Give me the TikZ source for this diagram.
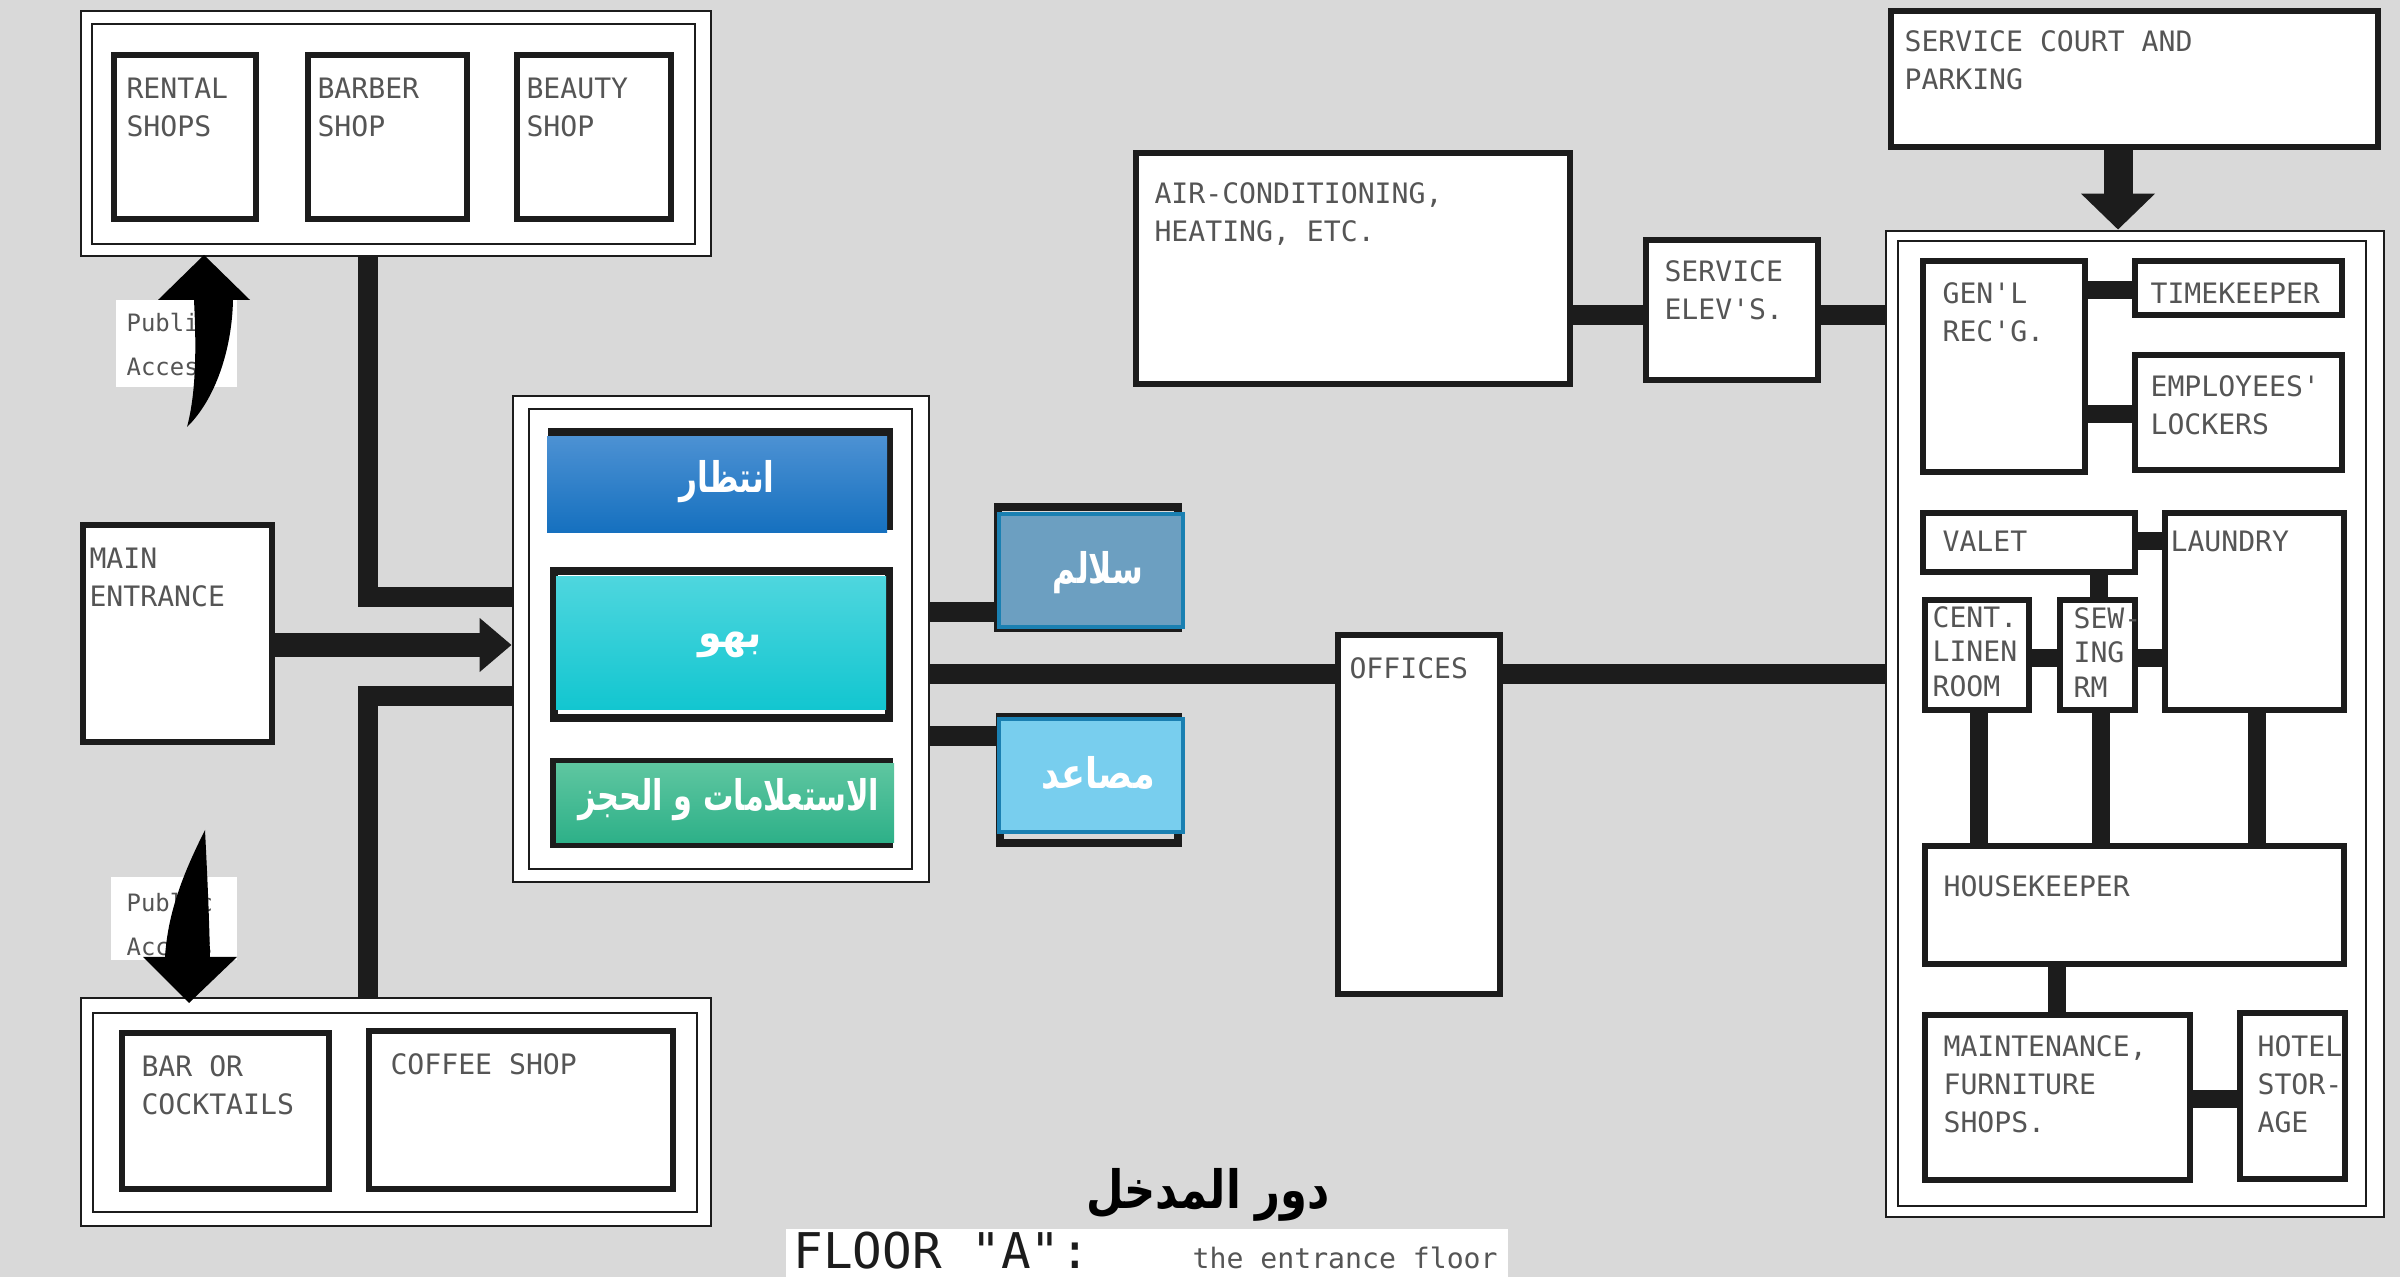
\documentclass[tikz,border=0pt]{standalone}
\usepackage{fontspec}
\setmonofont{DejaVu Sans Mono}
\newfontfamily\arabicfont[Script=Arabic]{DejaVu Sans}
\TeXXeTstate=1
\usetikzlibrary{fit,arrows.meta}
\definecolor{bggray}{HTML}{D9D9D9}
\definecolor{ink}{HTML}{1C1C1C}
\definecolor{txtgray}{HTML}{555555}
\definecolor{waitTop}{HTML}{4C91D3}
\definecolor{waitBot}{HTML}{1570BF}
\definecolor{lobTop}{HTML}{4ED6DE}
\definecolor{lobBot}{HTML}{12C6D0}
\definecolor{infoTop}{HTML}{5EC6A0}
\definecolor{infoBot}{HTML}{2DB088}
\definecolor{stairFill}{HTML}{6C9FC1}
\definecolor{elevFill}{HTML}{78CEEE}
\definecolor{tealEdge}{HTML}{1A80B2}
\tikzset{
  roombox/.style={draw=ink, line width=1.8pt, fill=white, inner sep=0pt},
  framebox/.style={draw=ink, line width=0.8pt, fill=white, inner sep=0pt},
  innerframe/.style={draw=ink, line width=0.8pt, inner sep=0pt},
  darkframe/.style={draw=ink, line width=2.2pt, inner sep=0pt},
  colorbox/.style={inner sep=0pt},
  roomlbl/.style={inner sep=0pt, anchor=north west, align=left, text=txtgray, font=\ttfamily\fontsize{8}{10.8}\selectfont},
  palbl/.style={inner sep=0pt, anchor=north west, align=left, text=txtgray, font=\ttfamily\fontsize{6.8}{12.5}\selectfont},
  whitebg/.style={fill=white, inner sep=0pt},
  bar/.style={draw=ink, line width=0.2cm},
  sbar/.style={draw=ink, line width=0.18cm},
  artext/.style={text=white, font=\arabicfont\bfseries\fontsize{12}{14}\selectfont, inner sep=0pt},
  bigarrow/.style={fill=black},
}
\newcommand\roomnode[6][]{\node[roombox,#1,fit={({#3+3},{#4+3}) ({#5-3},{#6-3})}] (#2) {};}
\newcommand\roomtext[5][]{\node[roomlbl,#1] (#2-t) at ([shift={(#3,#4)}]#2.north west) {#5};}
\begin{document}
\begin{tikzpicture}[x=0.01cm,y=-0.01cm]
\useasboundingbox (0,0) rectangle (2400,1277);
\clip (0,0) rectangle (2400,1277);
\fill[bggray] (0,0) rectangle (2400,1277);

% ---------- top-left group ----------
\node[framebox, fit={(81,11) (711,256)}] (topgrp) {};
\node[innerframe, fit={(92,24) (695,244)}] (topgrp-in) {};
\roomnode{rental}{111}{52}{259}{222}
\roomnode{barber}{305}{52}{470}{222}
\roomnode{beauty}{514}{52}{674}{222}
\roomtext{rental}{15}{25}{RENTAL\\SHOPS}
\roomtext{barber}{12}{25}{BARBER\\SHOP}
\roomtext{beauty}{12}{25}{BEAUTY\\SHOP}

% ---------- bottom-left group ----------
\node[framebox, fit={(81,998) (711,1226)}] (botgrp) {};
\node[innerframe, fit={(93,1013) (697,1212)}] (botgrp-in) {};
\roomnode{bar}{119}{1030}{332}{1192}
\roomnode{coffee}{366}{1028}{676}{1192}
\roomtext{bar}{22}{25}{BAR OR\\COCKTAILS}
\roomtext{coffee}{24}{25}{COFFEE SHOP}

% ---------- main entrance ----------
\roomnode{entrance}{80}{522}{275}{745}
\roomtext{entrance}{9}{25}{MAIN\\ENTRANCE}

% ---------- lobby group ----------
\node[framebox, fit={(513,396) (929,882)}] (lobby) {};
\node[innerframe, fit={(529,409) (912,869)}] (lobby-in) {};
\node[darkframe, fit={(552,432) (889,526)}] (wait-f) {};
\node[colorbox, top color=waitTop, bottom color=waitBot, fit={(547,437) (887,533)}] (wait) {};
\node[darkframe, fit={(554,571) (889,718)}] (lob-f) {};
\node[colorbox, top color=lobTop, bottom color=lobBot, fit={(556,577) (886,710)}] (lob) {};
\node[darkframe, fit={(554,762) (889,844)}] (info-f) {};
\node[colorbox, top color=infoTop, bottom color=infoBot, fit={(556,764) (894,843)}] (info) {};
\node[artext] (t-wait) at (727,482) {\scalebox{0.74}[1]{\beginR انتظار\endR}};
\node[artext] (t-lob) at (730,645) {\scalebox{0.9}[1]{\beginR بهو\endR}};
\node[artext] (t-info) at (729,800) {\scalebox{0.72}[1]{\beginR الاستعلامات و الحجز\endR}};

% ---------- stairs / elevators ----------
\node[darkframe, fit={(998,507) (1178,628)}] (stairs-f) {};
\node[colorbox, fill=stairFill, draw=tealEdge, line width=1pt, fit={(999,514) (1183,627)}] (stairs) {};
\node[artext] (t-stairs) at (1098,573) {\scalebox{0.74}[1]{\beginR سلالم\endR}};
\node[darkframe, fit={(1000,717) (1178,843)}] (elev-f) {};
\node[colorbox, fill=elevFill, draw=tealEdge, line width=1pt, fit={(999,719) (1183,832)}] (elev) {};
\node[artext] (t-elev) at (1098,773) {\scalebox{0.83}[1]{\beginR مصاعد\endR}};

% ---------- offices ----------
\roomnode{offices}{1335}{632}{1503}{997}
\roomtext{offices}{14}{25}{OFFICES}

% ---------- services ----------
\roomnode{ac}{1133}{150}{1573}{387}
\roomtext{ac}{21}{32}{AIR-CONDITIONING,\\HEATING, ETC.}
\roomnode{selev}{1643}{237}{1821}{383}
\roomtext{selev}{21}{23}{SERVICE\\ELEV'S.}
\roomnode{court}{1888}{8}{2381}{150}
\roomtext{court}{16}{22}{SERVICE COURT AND\\PARKING}

\node[framebox, fit={(1886,231) (2384,1217)}] (svc) {};
\node[innerframe, fit={(1898,241) (2366,1206)}] (svc-in) {};
\roomnode{genl}{1920}{258}{2088}{475}
\roomnode{time}{2132}{258}{2345}{318}
\roomnode{lock}{2132}{352}{2345}{473}
\roomnode{valet}{1920}{510}{2138}{575}
\roomnode{laundry}{2162}{510}{2347}{713}
\roomnode{linen}{1922}{597}{2032}{713}
\roomnode{sewing}{2057}{597}{2138}{713}
\roomnode{house}{1922}{843}{2347}{967}
\roomnode{maint}{1922}{1012}{2193}{1183}
\roomnode{stor}{2237}{1010}{2348}{1182}
\roomtext{genl}{22}{24}{GEN'L\\REC'G.}
\roomtext{time}{18}{24}{TIMEKEEPER}
\roomtext{lock}{18}{23}{EMPLOYEES'\\LOCKERS}
\roomtext{valet}{22}{20}{VALET}
\roomtext{laundry}{8}{20}{LAUNDRY}
\roomtext[font=\ttfamily\fontsize{8}{9.8}\selectfont]{linen}{10}{9}{CENT.\\LINEN\\ROOM}
\roomtext[font=\ttfamily\fontsize{8}{9.8}\selectfont]{sewing}{16}{10}{SEW-\\ING\\RM}
\roomtext{house}{21}{32}{HOUSEKEEPER}
\roomtext{maint}{21}{23}{MAINTENANCE,\\FURNITURE\\SHOPS.}
\roomtext{stor}{20}{25}{HOTEL\\STOR-\\AGE}

% ---------- connector coordinates ----------
\coordinate (hTop) at (368,597);
\coordinate (hBot) at (368,696);
\coordinate (hEnt) at (0,645);
\coordinate (hSt) at (0,612);
\coordinate (hOf) at (0,674);
\coordinate (hEl) at (0,736);
\coordinate (hAC) at (0,315);
\coordinate (vCt) at (2118,0);
\coordinate (hGT) at (0,290);
\coordinate (hGL) at (0,414);
\coordinate (hVL) at (0,541);
\coordinate (vVS) at (2099,0);
\coordinate (hLS) at (0,658);
\coordinate (vLi) at (1979,0);
\coordinate (vSe) at (2101,0);
\coordinate (vLa) at (2257,0);
\coordinate (vHM) at (2057,0);
\coordinate (hMS) at (0,1099);

% ---------- connectors ----------
\draw[bar] (topgrp.south -| hTop) |- (lobby.west |- hTop);
\draw[bar] (botgrp.north -| hBot) |- (lobby.west |- hBot);
\draw[bar, line width=0.24cm, -{Triangle[length=0.32cm,width=0.52cm]}] (entrance.east |- hEnt) -- (lobby.west |- hEnt);
\draw[bar] (lobby.east |- hSt) -- (stairs-f.west |- hSt);
\draw[bar] (lobby.east |- hOf) -- (offices.west |- hOf);
\draw[bar] (offices.east |- hOf) -- (svc.west |- hOf);
\draw[bar] (lobby.east |- hEl) -- (elev-f.west |- hEl);
\draw[bar] (ac.east |- hAC) -- (selev.west |- hAC);
\draw[bar] (selev.east |- hAC) -- (svc.west |- hAC);
\draw[bar, line width=0.29cm, -{Triangle[length=0.36cm,width=0.72cm]}] (court.south -| vCt) -- (svc.north -| vCt);
\draw[sbar] (genl.east |- hGT) -- (time.west |- hGT);
\draw[sbar] (genl.east |- hGL) -- (lock.west |- hGL);
\draw[sbar] (valet.east |- hVL) -- (laundry.west |- hVL);
\draw[sbar] (valet.south -| vVS) -- (sewing.north -| vVS);
\draw[sbar] (linen.east |- hLS) -- (sewing.west |- hLS);
\draw[sbar] (sewing.east |- hLS) -- (laundry.west |- hLS);
\draw[sbar] (linen.south -| vLi) -- (house.north -| vLi);
\draw[sbar] (sewing.south -| vSe) -- (house.north -| vSe);
\draw[sbar] (laundry.south -| vLa) -- (house.north -| vLa);
\draw[sbar] (house.south -| vHM) -- (maint.north -| vHM);
\draw[sbar] (maint.east |- hMS) -- (stor.west |- hMS);

% ---------- public access labels and arrows ----------
\node[whitebg, fit={(116,300) (237,387)}] (pa1-bg) {};
\node[palbl] (pa1) at (126,313) {Public\\Access};
\node[whitebg, fit={(111,877) (237,960)}] (pa2-bg) {};
\node[palbl] (pa2) at (126,893) {Public\\Access};
\coordinate (up-tip) at (204,255);
\coordinate (up-tail) at (187,427);
\fill[bigarrow] (up-tip) -- (250,300) -- (233,300) .. controls (232,350) and (215,400) .. (up-tail) .. controls (197,390) and (196,340) .. (194,300) -- (158,300) -- cycle;
\coordinate (dn-tip) at (189,1003);
\coordinate (dn-tail) at (205,830);
\fill[bigarrow] (dn-tail) .. controls (185,870) and (168,910) .. (165,957) -- (143,957) -- (dn-tip) -- (237,957) -- (210,957) .. controls (209,910) and (207,870) .. (dn-tail) -- cycle;

% ---------- title ----------
\node[font=\arabicfont\bfseries\fontsize{15}{17}\selectfont, inner sep=0pt] (title) at (1208,1195) {\scalebox{0.82}[1]{\beginR دور المدخل\endR}};
\node[whitebg, fit={(786,1229) (1508,1280)}] (floorbg) {};
\node[anchor=base west, inner sep=0pt, font=\ttfamily\fontsize{14}{16}\selectfont, text=ink] (floor) at (793,1268) {FLOOR "A":};
\node[anchor=base west, inner sep=0pt, font=\ttfamily\fontsize{8}{10}\selectfont, text=txtgray] (floorsub) at (1192,1268) {the entrance floor};
\end{tikzpicture}
\end{document}
